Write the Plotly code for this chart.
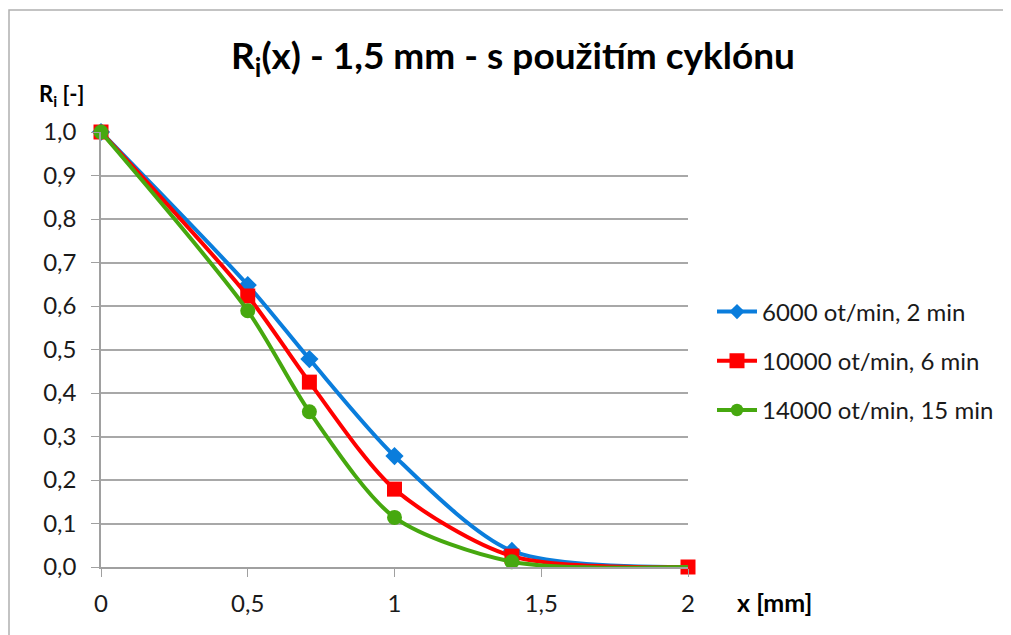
import plotly.graph_objects as go

x_vals = [0, 0.5, 0.71, 1.0, 1.4, 2.0]
series_names = ["6000 ot/min, 2 min", "10000 ot/min, 6 min", "14000 ot/min, 15 min"]
blue_vals = [1.0, 0.648, 0.478, 0.255, 0.037, 0.0]
red_vals = [1.0, 0.623, 0.425, 0.179, 0.025, 0.0]
green_vals = [1.0, 0.589, 0.357, 0.114, 0.012, 0.0]
y_ticks = [0.0, 0.1, 0.2, 0.3, 0.4, 0.5, 0.6, 0.7, 0.8, 0.9, 1.0]
y_tick_labels = ["0,0", "0,1", "0,2", "0,3", "0,4", "0,5", "0,6", "0,7", "0,8", "0,9", "1,0"]
x_ticks = [0, 0.5, 1, 1.5, 2]
x_tick_labels = ["0", "0,5", "1", "1,5", "2"]

FONT = "Lato"
# page body has an 8px default margin; compensate so the plot area lands at
# window px x 101..688, y 132..567
OFF = 8
L, R_EDGE, T, B_EDGE = 101 - OFF, 688 - OFF, 132 - OFF, 567 - OFF
W, H = 1011, 635
PW, PH = R_EDGE - L, B_EDGE - T

def px(xw):
    return (xw - 101) / PW

def py(yw):
    return (567 - yw) / PH

fig = go.Figure()

styles = [
    (blue_vals, "#0a7ddc", "diamond", 14),
    (red_vals, "#ff0000", "square", 15),
    (green_vals, "#46a80f", "circle", 15),
]
for i, (vals, col, sym, sz) in enumerate(styles):
    sizes = [sz] * len(vals)
    if i != 1:
        sizes[-1] = 0
    fig.add_trace(go.Scatter(
        x=x_vals, y=vals, name=series_names[i], mode="lines+markers",
        line=dict(color=col, width=4, shape="spline", smoothing=0.8),
        marker=dict(symbol=sym, size=sizes, color=col, opacity=1,
                    line=dict(width=0, color=col)),
        legendgroup=f"g{i}", cliponaxis=False,
    ))

fig.update_layout(
    width=W, height=H,
    margin=dict(l=L, r=W - R_EDGE, t=T, b=H - B_EDGE, autoexpand=False),
    paper_bgcolor="white", plot_bgcolor="white",
    font=dict(family=FONT, size=24, color="#1a1a1a"),
    showlegend=True,
    legend=dict(x=px(712), y=py(361), xanchor="left", yanchor="middle",
                font=dict(family=FONT, size=24, color="#1a1a1a"),
                tracegroupgap=15, itemwidth=40, bgcolor="rgba(0,0,0,0)"),
    xaxis=dict(range=[0, 2], tickvals=x_ticks, ticktext=x_tick_labels,
               tickfont=dict(family=FONT, size=24, color="#1a1a1a"),
               showgrid=False, zeroline=False, showline=True, automargin=False,
               linecolor="#a0a0a0", linewidth=1.5,
               ticks="outside", ticklen=8, tickcolor="#a0a0a0", ticklabelstandoff=6),
    yaxis=dict(range=[0, 1], tickvals=y_ticks, ticktext=y_tick_labels, automargin=False,
               tickfont=dict(family=FONT, size=24, color="#1a1a1a"),
               showgrid=True, gridcolor="#a8a8a8", gridwidth=1.5, zeroline=False,
               showline=True, linecolor="#a0a0a0", linewidth=1.5,
               ticks="outside", ticklen=8, tickcolor="#a0a0a0", ticklabelstandoff=10),
    annotations=[
        dict(text="<b>R<sub>i</sub>(x) - 1,5 mm - s použitím cyklónu</b>",
             xref="paper", yref="paper", x=px(513), y=py(57),
             xanchor="center", yanchor="middle", showarrow=False,
             font=dict(family=FONT, size=37, color="black")),
        dict(text="<b>R<sub>i</sub> [-]</b>", xref="paper", yref="paper",
             x=px(37), y=py(95), xanchor="left", yanchor="middle",
             showarrow=False, font=dict(family=FONT, size=22, color="black")),
        dict(text="<b>x [mm]</b>", xref="paper", yref="paper",
             x=px(735), y=py(602), xanchor="left", yanchor="middle",
             showarrow=False, font=dict(family=FONT, size=25, color="black")),
    ],
    shapes=[dict(type="rect", xref="paper", yref="paper",
                 x0=px(9), x1=px(1300), y0=py(900), y1=py(10),
                 line=dict(color="#b0b0b0", width=1.5), fillcolor="rgba(0,0,0,0)")],
)

fig.write_html("out.html")
